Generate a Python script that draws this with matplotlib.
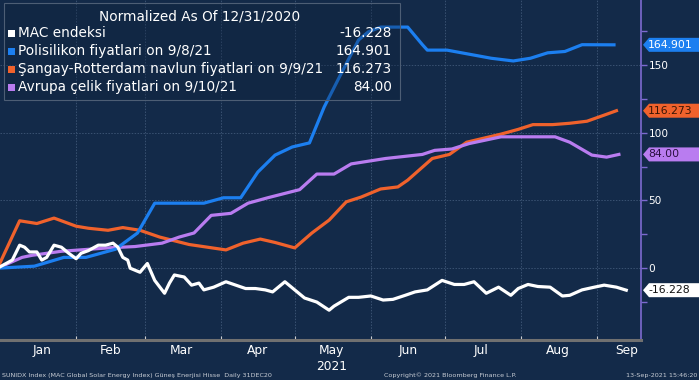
import matplotlib
matplotlib.use("Agg")
import matplotlib.pyplot as plt
import matplotlib.dates as mdates
from matplotlib.patches import Polygon, Rectangle
from matplotlib.ticker import FixedLocator, NullFormatter
import pandas as pd

plt.rcParams['font.family'] = ['DejaVu Sans']

# ---------------- data ----------------
mac_dates = ["2020-12-31", "2021-01-06", "2021-01-09", "2021-01-11", "2021-01-13", "2021-01-16",
             "2021-01-18", "2021-01-20", "2021-01-23", "2021-01-26", "2021-01-29", "2021-02-01",
             "2021-02-03", "2021-02-06", "2021-02-10", "2021-02-13", "2021-02-16", "2021-02-18",
             "2021-02-20", "2021-02-22", "2021-02-23", "2021-02-25", "2021-02-27", "2021-03-02",
             "2021-03-05", "2021-03-09", "2021-03-11", "2021-03-13", "2021-03-17", "2021-03-20",
             "2021-03-23", "2021-03-25", "2021-03-29", "2021-04-03", "2021-04-07", "2021-04-11",
             "2021-04-15", "2021-04-19", "2021-04-22", "2021-04-27", "2021-05-01", "2021-05-05",
             "2021-05-10", "2021-05-15", "2021-05-17", "2021-05-23", "2021-05-27", "2021-06-01",
             "2021-06-06", "2021-06-10", "2021-06-15", "2021-06-19", "2021-06-24", "2021-06-30",
             "2021-07-05", "2021-07-09", "2021-07-13", "2021-07-18", "2021-07-23", "2021-07-28",
             "2021-07-31", "2021-08-04", "2021-08-08", "2021-08-13", "2021-08-18", "2021-08-21",
             "2021-08-26", "2021-08-31", "2021-09-04", "2021-09-09", "2021-09-13"]
mac_values = [0, 6, 17, 15.5, 12, 12, 6, 8, 17, 15.5,
              11, 7, 11, 13, 17, 17, 18.5, 15.5, 8, 6,
              0, -1.5, -3, 3.5, -9, -18.5, -11, -5, -6.5, -12.5,
              -11, -16, -14, -10, -12.5, -15, -15, -16, -17.5, -10,
              -16, -22, -25, -31, -28, -21.5, -21.5, -20.5, -23.5, -23,
              -20, -17.5, -16, -9, -12, -12, -10, -18.5, -14, -20,
              -15, -12, -13.5, -14, -20.5, -20, -16, -14, -12.5, -14,
              -16.228]

poly_dates = ["2020-12-31", "2021-01-15", "2021-01-27", "2021-02-05", "2021-02-17", "2021-02-26",
              "2021-03-05", "2021-03-25", "2021-04-02", "2021-04-09", "2021-04-16", "2021-04-23",
              "2021-04-30", "2021-05-07", "2021-05-13", "2021-05-20", "2021-05-27", "2021-05-31",
              "2021-06-05", "2021-06-16", "2021-06-22", "2021-06-24", "2021-07-02", "2021-07-20",
              "2021-07-29", "2021-08-05", "2021-08-12", "2021-08-19", "2021-08-26", "2021-09-08"]
poly_values = [0, 1.5, 8, 8, 14, 26, 48, 48, 52, 52,
               71, 83.5, 89.5, 92.5, 119, 144, 168.5, 174.5, 178, 178,
               165, 161, 161, 155, 153, 155, 159, 160, 165, 164.901]

freight_dates = ["2020-12-31", "2021-01-09", "2021-01-16", "2021-01-23", "2021-02-01", "2021-02-06",
                 "2021-02-14", "2021-02-20", "2021-02-27", "2021-03-07", "2021-03-19", "2021-04-03",
                 "2021-04-10", "2021-04-17", "2021-04-23", "2021-05-01", "2021-05-08", "2021-05-15",
                 "2021-05-22", "2021-05-28", "2021-06-05", "2021-06-12", "2021-06-16", "2021-06-26",
                 "2021-07-03", "2021-07-10", "2021-07-17", "2021-07-24", "2021-07-31", "2021-08-06",
                 "2021-08-14", "2021-08-21", "2021-08-28", "2021-09-04", "2021-09-09"]
freight_values = [0, 35, 33, 37, 31, 29.5, 28, 30, 28, 23,
                  17.5, 13.5, 18.5, 21.5, 19, 15, 26, 35.5, 49, 52.5,
                  58.5, 60, 65, 81, 84, 93, 96, 99, 102.5, 106,
                  106, 107, 108.5, 113, 116.273]

steel_dates = ["2020-12-31", "2021-01-10", "2021-01-14", "2021-01-26", "2021-02-14", "2021-02-25",
               "2021-03-08", "2021-03-15", "2021-03-21", "2021-03-28", "2021-04-05", "2021-04-12",
               "2021-04-20", "2021-05-03", "2021-05-10", "2021-05-17", "2021-05-24", "2021-06-07",
               "2021-06-22", "2021-06-27", "2021-07-04", "2021-07-11", "2021-07-24", "2021-08-15",
               "2021-08-21", "2021-08-30", "2021-09-05", "2021-09-10"]
steel_values = [0, 8, 9.5, 12.5, 15, 16, 18.5, 23, 26, 39,
                40.5, 48, 52, 58, 69.5, 69.5, 77, 81, 84, 87,
                88, 92, 97, 97, 93, 83.5, 82, 84.0]

series_names = ["MAC endeksi", "Polisilikon fiyatlari on 9/8/21",
                "Şangay-Rotterdam navlun fiyatlari on 9/9/21", "Avrupa çelik fiyatlari on 9/10/21"]
series_labels = ["-16.228", "164.901", "116.273", "84.00"]
month_labels = ["Jan", "Feb", "Mar", "Apr", "May", "Jun", "Jul", "Aug", "Sep"]
month_label_dates = ["2021-01-18", "2021-02-15", "2021-03-16", "2021-04-16", "2021-05-16",
                     "2021-06-16", "2021-07-16", "2021-08-16", "2021-09-13"]
month_starts = ["2021-02-01", "2021-03-01", "2021-04-01", "2021-05-01", "2021-06-01",
                "2021-07-01", "2021-08-01", "2021-09-01"]
y_major = [0, 50, 100, 150]
y_minor = [-25, 25, 75, 125, 175]

# ---------------- style ----------------
BG = '#132a49'
GRID = '#3a5272'
AXISC = '#7d6ad0'
colors = ['#ffffff', '#1c7ff0', '#f0622c', '#b97cf0']
tag_text = ['#111111', '#ffffff', '#3a1505', '#2a1040']

W, H = 699, 380
fig = plt.figure(figsize=(W / 100, H / 100), dpi=100, facecolor=BG)
ax = fig.add_axes([0, 40 / H, 641 / W, 340 / H], facecolor=BG)

all_series = [(mac_dates, mac_values), (poly_dates, poly_values),
              (freight_dates, freight_values), (steel_dates, steel_values)]
zord = [5, 4, 3, 3.5]
for (d, v), c, z in zip(all_series, colors, zord):
    ax.plot(pd.to_datetime(d), v, color=c, lw=2.3, zorder=z, solid_joinstyle='round')

ax.set_xlim(pd.Timestamp("2021-01-01"), pd.Timestamp("2021-09-19"))
ax.set_ylim(-53, 198)

# y axis on the right
ax.yaxis.tick_right()
ax.yaxis.set_major_locator(FixedLocator(y_major))
ax.yaxis.set_minor_locator(FixedLocator(y_minor))
ax.tick_params(axis='y', which='major', colors=AXISC, labelcolor='white', length=4,
               width=1, labelsize=7.6, pad=1.5)
ax.tick_params(axis='y', which='minor', colors=AXISC, length=4, width=1)
for s in ['left', 'top']:
    ax.spines[s].set_visible(False)
ax.spines['right'].set_color(AXISC)
ax.spines['right'].set_linewidth(1.2)
ax.spines['bottom'].set_color('#707070')
ax.spines['bottom'].set_linewidth(2.2)

# x axis: ticks at month starts, labels mid-month
ax.xaxis.set_major_locator(FixedLocator(mdates.date2num(pd.to_datetime(month_starts))))
ax.xaxis.set_major_formatter(NullFormatter())
ax.xaxis.set_minor_locator(FixedLocator(mdates.date2num(pd.to_datetime(month_label_dates))))
ax.xaxis.set_minor_formatter(plt.FixedFormatter(month_labels))
ax.tick_params(axis='x', which='major', colors='#cfcfcf', length=3, width=0.8, direction='in')
ax.tick_params(axis='x', which='minor', length=0, labelcolor='white', labelsize=8.8, pad=3)

# grid
for d in month_starts:
    ax.axvline(pd.Timestamp(d), color=GRID, lw=0.7, ls=(0, (1.5, 1.5)), zorder=1)
for yv in y_major:
    ax.axhline(yv, color=GRID, lw=0.7, ls=(0, (1.5, 1.5)), zorder=1)

fig.text(332 / W, 1 - 367 / H, "2021", color='white', fontsize=8.8, ha='center', va='center')

# footer
fig.text(2 / W, 1 - 375 / H, "SUNIDX Index (MAC Global Solar Energy Index) Güneş Enerjisi Hisse  Daily 31DEC20",
         color='#c9ced6', fontsize=4.6, ha='left', va='center')
fig.text(450 / W, 1 - 375 / H, "Copyright© 2021 Bloomberg Finance L.P.",
         color='#c9ced6', fontsize=4.6, ha='center', va='center')
fig.text(697 / W, 1 - 375 / H, "13-Sep-2021 15:46:20",
         color='#c9ced6', fontsize=4.6, ha='right', va='center')

# legend box
def fx(px):
    return px / W

def fy(py):
    return 1 - py / H

box = Rectangle((fx(4), fy(100)), fx(400) - fx(4), fy(3) - fy(100), transform=fig.transFigure,
                facecolor='#0f223d', alpha=0.35, edgecolor='none', zorder=10)
fig.patches.append(box)
box2 = Rectangle((fx(4), fy(100)), fx(400) - fx(4), fy(3) - fy(100), transform=fig.transFigure,
                 facecolor='none', edgecolor='#4d5e75', lw=0.8, zorder=11)
fig.patches.append(box2)
fig.text(fx(200), fy(16), "Normalized As Of 12/31/2020", color='white', fontsize=9.8,
         ha='center', va='center', zorder=12)
row_y = [33, 51, 69, 87]
for name, lab, c, ry in zip(series_names, series_labels, colors, row_y):
    sq = Rectangle((fx(8), fy(ry + 4)), fx(7), 7 / H, transform=fig.transFigure,
                   facecolor=c, edgecolor='none', zorder=12)
    fig.patches.append(sq)
    fig.text(fx(18), fy(ry), name, color='white', fontsize=9.8, ha='left', va='center', zorder=12)
    fig.text(fx(392), fy(ry), lab, color='white', fontsize=9.8, ha='right', va='center', zorder=12)

# right-side value tags
last_vals = [mac_values[-1], poly_values[-1], freight_values[-1], steel_values[-1]]
for v, lab, c, tc in zip(last_vals, series_labels, colors, tag_text):
    ypx = ax.transData.transform((0, v))[1]  # pixels from bottom
    yt = H - ypx
    h = 7
    pts = [(fx(643), fy(yt)), (fx(649), fy(yt - h)), (fx(699), fy(yt - h)),
           (fx(699), fy(yt + h)), (fx(649), fy(yt + h))]
    fig.patches.append(Polygon(pts, closed=True, transform=fig.transFigure,
                               facecolor=c, edgecolor='none', zorder=10))
    fig.text(fx(648), fy(yt), lab, color=tc, fontsize=7.8, ha='left', va='center', zorder=12)

fig.savefig("out.png", dpi=100, facecolor=BG)
